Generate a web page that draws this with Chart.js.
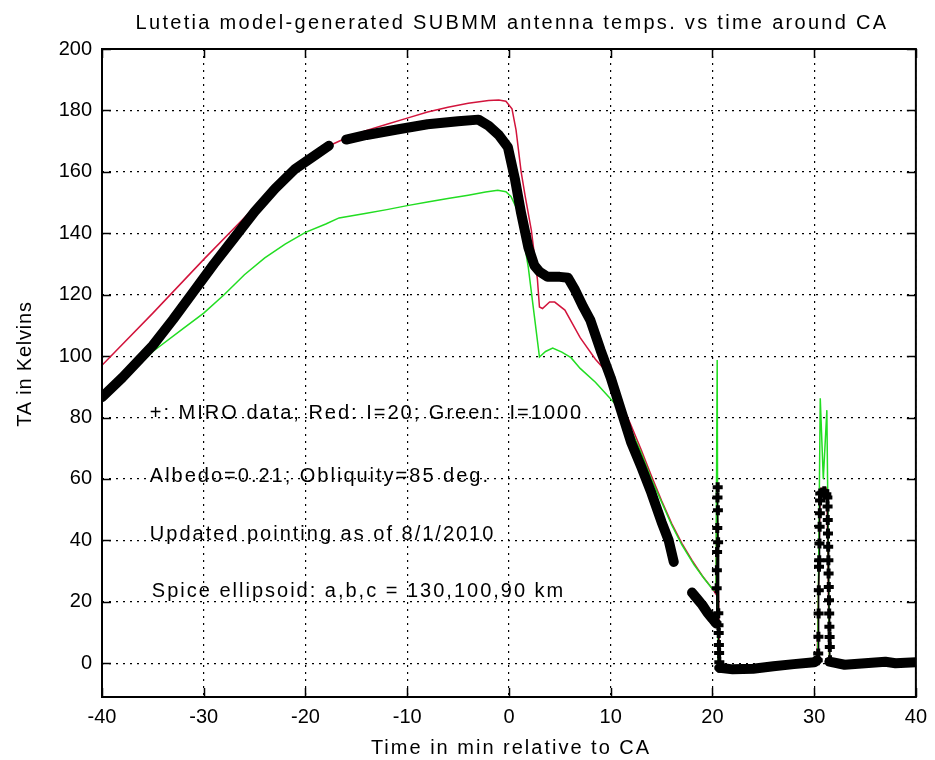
<!DOCTYPE html>
<html>
<head>
<meta charset="utf-8">
<script src="https://cdn.jsdelivr.net/npm/chart.js@4.4.1/dist/chart.umd.min.js"></script>
<style>
    html, body { margin: 0; padding: 0; background: #fff; }
    #wrap { width: 935px; height: 760px; position: relative; }
</style>
</head>
<body>
<div id="wrap"><canvas id="taChart" width="935" height="760"></canvas></div>
<script>
// tick values
const timeTicks = [-40, -30, -20, -10, 0, 10, 20, 30, 40];
const taTicks = [0, 20, 40, 60, 80, 100, 120, 140, 160, 180, 200];

// MIRO data, dense part (null = gap)
const miroTime = [-40, -38, -36, -35, -33, -31, -29, -27, -25, -23, -21, -19, -17.7, -17,
    -16, -14, -11, -8, -5, -3, -2, -1, -0.1, 0.6, 1.2, 1.9, 2.5, 3, 3.8, 5, 5.8, 6.5, 7.3, 8, 9, 10, 11, 12, 13, 14, 15, 15.7, 16.2, 17,
    18, 18.5, 19, 19.5, 20, 20.35, 20.5,
    20.7, 22, 24, 26, 28, 30, 30.3, 30.8,
    31.5, 33, 35, 37, 38, 40];
const miroTA = [86.6, 93, 100, 103.5, 112, 121, 130, 138.5, 147, 154.5, 161, 165.5, 168.5, null,
    170.5, 172, 173.8, 175.5, 176.5, 177, 175, 172, 168, 157.5, 146.5, 135.5, 129.5, 127.5, 125.8, 125.8, 125.5, 121.5, 116, 111.7, 102, 93, 82.5, 72, 64, 55.5, 46, 40, 33, null,
    23, 21, 19, 16.5, 14.5, 13, null,
    -1.5, -2, -1.8, -1, -0.3, 0.3, 1, null,
    0.5, -0.5, 0, 0.5, 0, 0.3];

// MIRO data, sparse points on the two spikes
const spikeTime = [20.4, 20.42, 20.44, 20.46, 20.48, 20.5, 20.52, 20.54, 20.56, 20.58, 20.6, 20.62, 20.64, 20.66, 20.68, 20.7, null,
    30.35, 30.4, 30.42, 30.44, 30.46, 30.48, 30.5, 30.52, 30.54, 30.56, 30.58, 30.6, 30.8, 31.0, 31.2,
    31.3, 31.32, 31.34, 31.36, 31.38, 31.4, 31.42, 31.44, 31.46, 31.48, 31.5, 31.52, 31.54, 31.56];
const spikeTA = [13, 24.4, 30.3, 36.2, 44, 54, 57.3, 49.8, 39.4, 16.3, 12.4, 9.8, 5.9, 3.3, 0.3, -1.5, null,
    1, 3.2, 8.6, 16.2, 23.8, 31.4, 33.5, 39, 44.4, 48.8, 53, 55.3, 55.5, 56, 55,
    54, 51, 46.6, 42.2, 37.9, 33.5, 29.2, 24.8, 20.5, 16.2, 11.9, 8.5, 5.3, 1];

// Model, I=20 (red)
const redTime = [-40, -35, -30, -25, -22, -20, -18, -16, -14, -12, -10, -8, -6, -4, -2, -1, -0.3, 0.3, 0.7, 1.2, 1.6, 2.2, 2.8, 3.0, 3.3, 4.0, 4.5, 5.5, 7, 8.5, 9.7, 11, 12, 13, 14, 15, 16, 17, 18, 19, 20.1, 20.35,
    20.45, 20.6, 20.7, 24, 28, 30.3, 30.6, 31.25, 31.5, 35, 40];
const redTA = [97, 114, 131.5, 148.5, 158, 163.5, 168, 171, 173.5, 175.5, 177.5, 179.5, 181, 182.3, 183.2, 183.4, 183, 180.5, 173.6, 160, 152, 141, 125, 116, 115.5, 117.6, 117.6, 115, 106, 99, 94.5, 85, 77.5, 69.5, 61, 53, 45.5, 39, 33.5, 28.5, 23.8, 22.5,
    58, 20, -1.5, -1.5, -0.3, 1, 57, 57, 1, 0, 0];

// Model, I=1000 (green)
const greenTime = [-40, -37, -35, -32, -30, -28, -26, -24, -22, -20, -18, -16.7, -14, -12, -10, -8, -6, -4, -2.3, -1.1, -0.3, 0.2, 0.7, 1.2, 1.9, 2.5, 3.0, 3.6, 4.3, 5.2, 6.1, 7, 8.5, 10, 11, 12, 13, 14, 15, 16, 17, 18.2, 19.2, 20.1, 20.35,
    20.47, 20.55, 20.7, 24, 28, 30.35, 30.6, 30.9, 31.25, 31.5, 35, 40];
const greenTA = [87.5, 95, 101.5, 109, 114, 120, 126.5, 132, 136.5, 140.3, 143, 145, 146.5, 147.7, 149, 150.2, 151.3, 152.4, 153.4, 154, 153.5, 152, 148.5, 143, 129, 113, 99.7, 101.5, 102.6, 101.3, 99.5, 96, 91.5, 86, 82.5, 76, 68.5, 60, 52.5, 45, 38.5, 32, 27.5, 23.8, 24,
    98.7, 0, -1.5, -1.5, -0.3, 1, 86.3, 60, 82.4, 1, 0, 0];

function toPoints(xs, ys) {
    return xs.map((x, i) => ({ x: x === null ? NaN : x, y: ys[i] }));
}

const textFont = "'Liberation Sans', Arial, sans-serif";

const notes = [
    { text: '+: MIRO data; Red: I=20; Green: I=1000', t: -35.3, ta: 81.3 },
    { text: 'Albedo=0.21; Obliquity=85 deg.', t: -35.3, ta: 60.8 },
    { text: 'Updated pointing as of 8/1/2010', t: -35.3, ta: 41.9 },
    { text: 'Spice ellipsoid: a,b,c = 130,100,90 km', t: -35.1, ta: 23.3 }
];

const frame = {
    id: 'frame',
    beforeDatasetsDraw(chart) {
        const { ctx, chartArea: a, scales } = chart;
        ctx.save();
        ctx.strokeStyle = '#000';
        ctx.lineWidth = 1.5;
        ctx.beginPath();
        timeTicks.forEach((v) => {
            const px = Math.round(scales.x.getPixelForValue(v)) + 0.5;
            ctx.moveTo(px, a.bottom); ctx.lineTo(px, a.bottom - 9);
            ctx.moveTo(px, a.top); ctx.lineTo(px, a.top + 9);
        });
        taTicks.forEach((v) => {
            const py = Math.round(scales.y.getPixelForValue(v)) + 0.5;
            ctx.moveTo(a.left, py); ctx.lineTo(a.left + 9, py);
            ctx.moveTo(a.right, py); ctx.lineTo(a.right - 9, py);
        });
        ctx.stroke();
        ctx.restore();
    },
    afterDatasetsDraw(chart) {
        const { ctx, chartArea: a, scales } = chart;
        ctx.save();
        ctx.strokeStyle = '#000';
        ctx.lineWidth = 2;
        ctx.strokeRect(a.left, a.top, a.right - a.left, a.bottom - a.top);

        ctx.fillStyle = '#000';
        ctx.font = '20px ' + textFont;
        ctx.textBaseline = 'middle';
        ctx.letterSpacing = '2px';
        ctx.textAlign = 'left';
        notes.forEach((n) => {
            ctx.fillText(n.text, scales.x.getPixelForValue(n.t), scales.y.getPixelForValue(n.ta));
        });

        ctx.textAlign = 'center';
        ctx.letterSpacing = '2.3px';
        ctx.fillText('Lutetia model-generated SUBMM antenna temps. vs time around CA', 512, 23);
        ctx.letterSpacing = '2px';
        ctx.fillText('Time in min relative to CA', 511, 748);

        ctx.translate(25, 364);
        ctx.rotate(-Math.PI / 2);
        ctx.letterSpacing = '0.8px';
        ctx.fillText('TA in Kelvins', 0, 0);
        ctx.restore();
    }
};

const ctx = document.getElementById('taChart').getContext('2d');

new Chart(ctx, {
    type: 'line',
    data: {
        datasets: [{
            label: 'MIRO data',
            data: toPoints(miroTime, miroTA),
            borderColor: '#000',
            borderWidth: 10,
            borderCapStyle: 'round',
            borderJoinStyle: 'round',
            pointRadius: 0,
            spanGaps: false,
            order: 0
        }, {
            label: 'MIRO spikes',
            data: toPoints(spikeTime, spikeTA),
            borderColor: '#000',
            backgroundColor: '#000',
            borderWidth: 1.5,
            pointStyle: 'cross',
            pointRadius: 5,
            pointBorderWidth: 4,
            spanGaps: false,
            order: 0
        }, {
            label: 'Green: I=1000',
            data: toPoints(greenTime, greenTA),
            borderColor: '#22dd22',
            borderWidth: 1.5,
            pointRadius: 0,
            order: 1
        }, {
            label: 'Red: I=20',
            data: toPoints(redTime, redTA),
            borderColor: '#d2143c',
            borderWidth: 1.5,
            pointRadius: 0,
            order: 2
        }]
    },
    options: {
        responsive: false,
        animation: false,
        layout: { padding: { top: 49, right: 15, bottom: 0, left: 0 } },
        plugins: {
            legend: { display: false },
            tooltip: { enabled: false },
            title: { display: false }
        },
        scales: {
            x: {
                type: 'linear',
                min: -40,
                max: 40,
                afterFit: (scale) => { scale.height = 63; },
                afterBuildTicks: (scale) => { scale.ticks = timeTicks.map((v) => ({ value: v })); },
                ticks: {
                    color: '#000',
                    padding: 8,
                    maxRotation: 0,
                    font: { family: textFont, size: 20 }
                },
                grid: { color: '#000', lineWidth: 1.2, drawTicks: false },
                border: { display: false, dash: [2, 5] }
            },
            y: {
                type: 'linear',
                min: -11,
                max: 200,
                afterFit: (scale) => { scale.width = 102; },
                afterBuildTicks: (scale) => { scale.ticks = taTicks.map((v) => ({ value: v })); },
                ticks: {
                    color: '#000',
                    padding: 10,
                    font: { family: textFont, size: 20 }
                },
                grid: { color: '#000', lineWidth: 1.2, drawTicks: false },
                border: { display: false, dash: [2, 5] }
            }
        }
    },
    plugins: [frame]
});
</script>
</body>
</html>
